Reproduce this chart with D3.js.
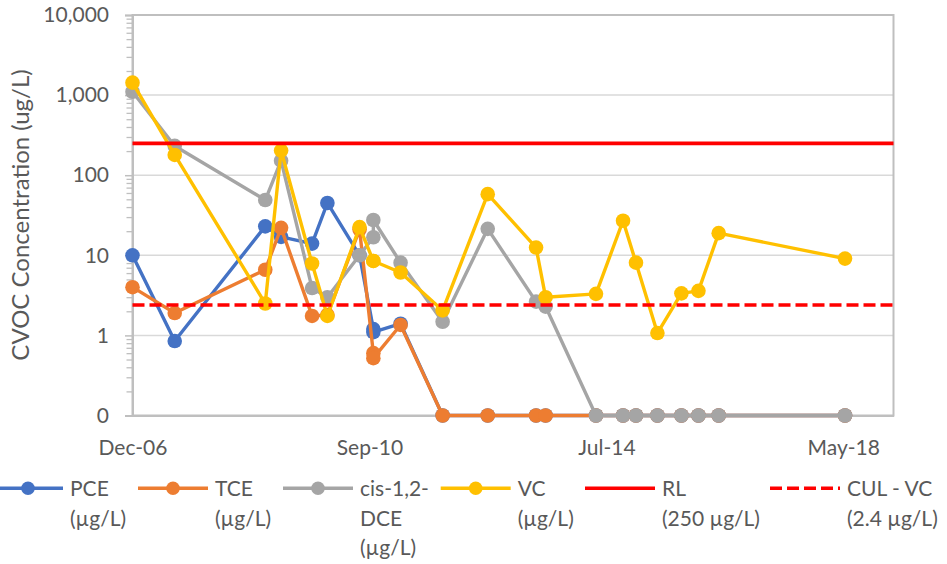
<!DOCTYPE html>
<html>
<head>
<meta charset="utf-8">
<script src="https://cdn.jsdelivr.net/npm/d3@7"></script>
<style>
  html, body { margin: 0; padding: 0; background: #ffffff; }
  svg { display: block; }
  text { font-family: Lato, "Open Sans", sans-serif; fill: #595959; }
</style>
</head>
<body>
<svg id="chart" width="947" height="564"></svg>
<script>
// Sampling dates (ISO) for the monitoring well
const sampleDates = [
  "2006-12-05", "2007-08-10", "2009-01-23", "2009-04-26", "2009-10-25",
  "2010-01-23", "2010-07-31", "2010-10-20", "2010-10-20", "2011-03-29",
  "2011-12-01", "2012-08-22", "2013-06-02", "2013-07-28", "2014-05-20",
  "2014-10-26", "2015-01-10", "2015-05-16", "2015-10-04", "2016-01-12",
  "2016-05-10", "2018-05-22"
];

// Concentrations in µg/L (non-detects plotted at 0.1)
const pceValues = [10, 0.85, 23, 17, 14, 45, 10, 1.2, 1.1, 1.4,
  0.1, 0.1, 0.1, 0.1, 0.1, 0.1, 0.1, 0.1, 0.1, 0.1, 0.1, 0.1];
const tceValues = [4.0, 1.9, 6.6, 22, 1.75, 1.8, 21, 0.6, 0.52, 1.35,
  0.1, 0.1, 0.1, 0.1, 0.1, 0.1, 0.1, 0.1, 0.1, 0.1, 0.1, 0.1];
const dceValues = [1100, 232, 49, 152, 3.9, 3.0, 10, 16.8, 27.6, 8.1,
  1.48, 21.4, 2.64, 2.29, 0.1, 0.1, 0.1, 0.1, 0.1, 0.1, 0.1, 0.1];
const vcValues = [1430, 179, 2.5, 203, 7.9, 1.75, 22.5, 8.5, 8.5, 6.1,
  2.05, 58, 12.5, 3.0, 3.3, 27, 8.1, 1.07, 3.35, 3.6, 18.9, 9.1];

// Screening levels
const rlValue = 250;
const culValue = 2.4;

// Axis settings
const yTickValues = [0.1, 1, 10, 100, 1000, 10000];
const axisStart = "2006-12-05";
const axisStepDays = 1392;
const axisSpanSteps = 3.212;

const seriesList = [
  { name: ["PCE", "(µg/L)"], values: pceValues, color: "#4472C4" },
  { name: ["TCE", "(µg/L)"], values: tceValues, color: "#ED7D31" },
  { name: ["cis-1,2-", "DCE", "(µg/L)"], values: dceValues, color: "#A5A5A5" },
  { name: ["VC", "(µg/L)"], values: vcValues, color: "#FFC000" }
];
const refLines = [
  { name: ["RL", "(250 µg/L)"], value: rlValue, color: "#FF0000", dash: null },
  { name: ["CUL - VC", "(2.4 µg/L)"], value: culValue, color: "#FF0000", dash: "12,5" }
];

const svg = d3.select("#chart");
const plot = { left: 132.5, top: 15, right: 893.5, bottom: 415.5 };

const parse = d3.utcParse("%Y-%m-%d");
const start = parse(axisStart);
const end = d3.utcDay.offset(start, Math.round(axisStepDays * axisSpanSteps));
const x = d3.scaleUtc().domain([start, end]).range([plot.left, plot.right]);
const y = d3.scaleLog().domain([0.1, 10000]).range([plot.bottom, plot.top]);

const xTicks = d3.range(0, 4).map(k => d3.utcDay.offset(start, k * axisStepDays));

// Horizontal gridlines at each decade
svg.append("g")
  .selectAll("line")
  .data(yTickValues.slice(1, -1))
  .join("line")
  .attr("x1", plot.left).attr("x2", plot.right)
  .attr("y1", d => y(d)).attr("y2", d => y(d))
  .attr("stroke", "#d9d9d9").attr("stroke-width", 1.5);

// Plot frame
svg.append("rect")
  .attr("x", plot.left).attr("y", plot.top)
  .attr("width", plot.right - plot.left).attr("height", plot.bottom - plot.top)
  .attr("fill", "none").attr("stroke", "#bfbfbf").attr("stroke-width", 2);

// Minor log ticks on the y axis
const minorTicks = [];
for (let e = -1; e < 4; e++) {
  for (let m = 2; m <= 9; m++) minorTicks.push(m * Math.pow(10, e));
}
svg.append("g")
  .attr("transform", `translate(${plot.left},0)`)
  .call(d3.axisLeft(y).tickValues(minorTicks).tickSize(6).tickFormat(""))
  .call(g => g.select(".domain").remove())
  .call(g => g.selectAll("line").attr("stroke", "#bfbfbf").attr("stroke-width", 1.3));

// Major y axis
svg.append("g")
  .attr("transform", `translate(${plot.left},0)`)
  .call(d3.axisLeft(y).tickValues(yTickValues).tickSize(7.5).tickPadding(16)
    .tickFormat(d3.format(",.0f")))
  .call(g => g.select(".domain").attr("stroke", "#bfbfbf").attr("stroke-width", 2))
  .call(g => g.selectAll("line").attr("stroke", "#bfbfbf").attr("stroke-width", 1.5))
  .call(g => g.selectAll("text")
    .attr("font-size", 21).attr("fill", "#595959")
    .style("font-family", "Lato, sans-serif"));

// X axis (date labels)
svg.append("g")
  .attr("transform", `translate(0,${plot.bottom})`)
  .call(d3.axisBottom(x).tickValues(xTicks).tickSize(0).tickPadding(25)
    .tickFormat(d3.utcFormat("%b-%y")))
  .call(g => g.select(".domain").attr("stroke", "#bfbfbf").attr("stroke-width", 2))
  .call(g => g.selectAll("text")
    .attr("font-size", 21).attr("fill", "#595959")
    .style("font-family", "Lato, sans-serif"));

// Y axis title
svg.append("text")
  .attr("transform", "translate(29,215) rotate(-90)")
  .attr("text-anchor", "middle")
  .attr("font-size", 24)
  .text("CVOC Concentration (ug/L)");

// Data series: line then markers, in series order
const line = d3.line()
  .x(d => x(d.date))
  .y(d => y(d.value));

seriesList.forEach(s => {
  const pts = sampleDates.map((d, i) => ({ date: parse(d), value: s.values[i] }));
  const g = svg.append("g");
  g.append("path")
    .datum(pts)
    .attr("d", line)
    .attr("fill", "none")
    .attr("stroke", s.color)
    .attr("stroke-width", 3.4)
    .attr("stroke-linejoin", "round");
  g.selectAll("circle")
    .data(pts)
    .join("circle")
    .attr("cx", d => x(d.date))
    .attr("cy", d => y(d.value))
    .attr("r", 7.3)
    .attr("fill", s.color);
});

// Reference levels across the plot
refLines.forEach(r => {
  svg.append("line")
    .attr("x1", plot.left).attr("x2", plot.right)
    .attr("y1", y(r.value)).attr("y2", y(r.value))
    .attr("stroke", r.color)
    .attr("stroke-width", 3.6)
    .attr("stroke-dasharray", r.dash);
});

// Legend
const legendStarts = [-7, 138, 283, 440.7, 585, 770];
const legendY = 488.3;
const legendItems = seriesList.map(s => ({ ...s, marker: true }))
  .concat(refLines.map(r => ({ ...r, marker: false })));

legendItems.forEach((item, i) => {
  const x0 = legendStarts[i];
  const g = svg.append("g").attr("transform", `translate(${x0},${legendY})`);
  g.append("line")
    .attr("x1", 0).attr("x2", 70)
    .attr("stroke", item.color)
    .attr("stroke-width", item.marker ? 3.4 : 3.6)
    .attr("stroke-dasharray", item.dash || null);
  if (item.marker) {
    g.append("circle").attr("cx", 35).attr("r", 6.8).attr("fill", item.color);
  }
  const t = g.append("text")
    .attr("x", 77)
    .attr("y", 8)
    .attr("font-size", 21);
  item.name.forEach((ln, j) => {
    t.append("tspan").attr("x", 77).attr("dy", j === 0 ? 0 : 29.5).text(ln);
  });
});
</script>
</body>
</html>
